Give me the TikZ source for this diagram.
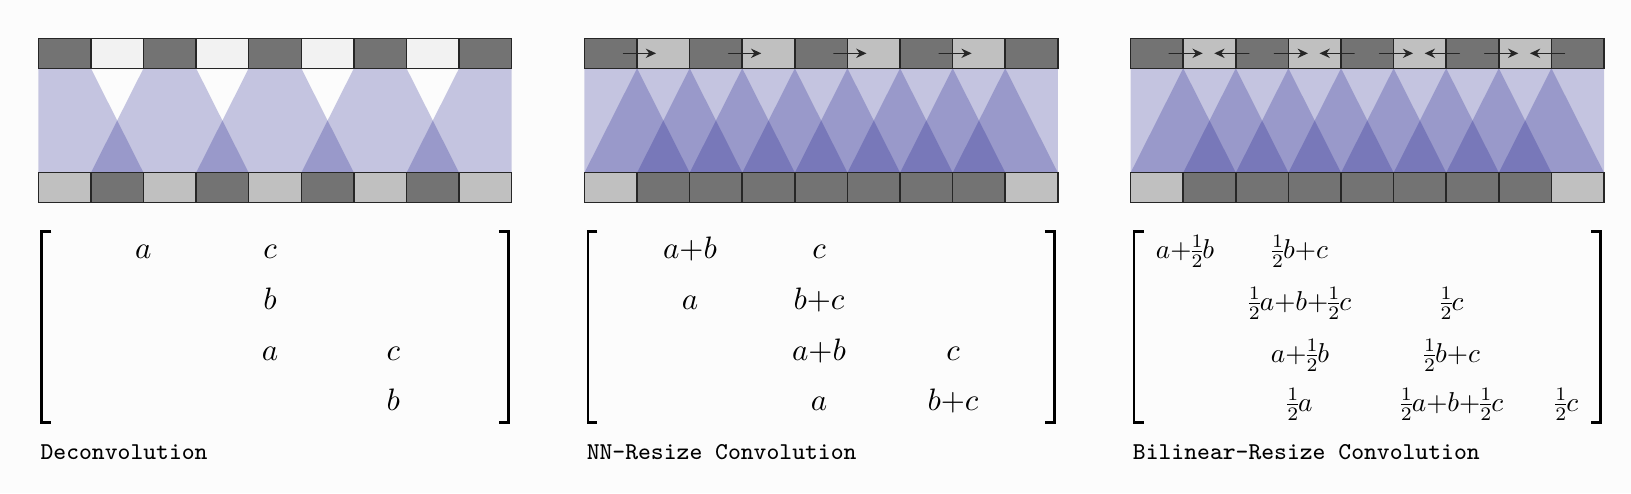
\documentclass[tikz,border=0pt]{standalone}
\usepackage{fontspec}
\usepackage{tikz}
\usetikzlibrary{arrows.meta}
\newfontfamily\captionmono{Latin Modern Mono}
\definecolor{cellDark}{RGB}{115,115,115}
\definecolor{cellGray}{RGB}{192,192,192}
\definecolor{cellBlank}{RGB}{242,242,242}
\definecolor{cellEdge}{RGB}{38,38,38}
\definecolor{kernBlue}{RGB}{11,11,131}
\definecolor{paper}{RGB}{252,252,252}
\newcommand{\smallmath}[1]{\scalebox{0.88}{$#1$}}

\begin{document}
\begin{tikzpicture}[x=0.3225pt, y=-0.3225pt, style={line cap = round},
	cell/.style={draw=cellEdge, line width=0.5pt, line cap=butt},
	kern/.style={fill=kernBlue, fill opacity=0.232},
	move/.style={draw=cellEdge, line width=0.5pt, -{Stealth[length=3.3pt, width=3pt]}},
	brack/.style={line width=0.85pt, line cap=butt, line join=miter},
	entry/.style={anchor=base, inner sep=0pt, execute at begin node={\medmuskip=0mu\nulldelimiterspace=0pt}},
	caption/.style={anchor=base west, inner sep=0pt, font=\fontsize{7.8}{9}\selectfont\captionmono}]
	\fill[paper] (0,0) rectangle (1631,493);
	% deconvolution
	\begin{scope}[shift={(38.3,0)}]
		\begin{scope}
			\clip (0,68.3) rectangle (473.4,172.7);
			\foreach \i in {0,2,...,8}
				\fill[kern] ({52.6*\i},68.3) -- +(52.6,0) -- +(105.2,104.4) -- +(-52.6,104.4) -- cycle;
		\end{scope}
		\foreach \c [count=\i from 0] in {cellDark,cellBlank,cellDark,cellBlank,cellDark,cellBlank,cellDark,cellBlank,cellDark}
			\filldraw[cell, fill=\c] ({52.6*\i},38.3) rectangle +(52.6,30);
		\foreach \c [count=\i from 0] in {cellGray,cellDark,cellGray,cellDark,cellGray,cellDark,cellGray,cellDark,cellGray}
			\filldraw[cell, fill=\c] ({52.6*\i},172.7) rectangle +(52.6,30);
		\draw[brack] (13,231.7) -- (3.5,231.7) -- (3.5,422.5) -- (13,422.5);
		\draw[brack] (460.5,231.7) -- (470,231.7) -- (470,422.5) -- (460.5,422.5);
		\node[entry] (dA11) at (105,258) {$a$};
		\node[entry] (dA12) at (231.7,258) {$c$};
		\node[entry] (dA22) at (231.7,309.5) {$b$};
		\node[entry] (dA32) at (231.7,360) {$a$};
		\node[entry] (dA33) at (355,360) {$c$};
		\node[entry] (dA43) at (355,410) {$b$};
		\node[caption] (decCap) at (1.7,459.5) {Deconvolution};
	\end{scope}
	% nearest neighbour resize
	\begin{scope}[shift={(584.45,0)}]
		\begin{scope}
			\clip (0,68.3) rectangle (473.4,172.7);
			\foreach \i in {0,...,8}
				\fill[kern] ({52.6*\i},68.3) -- +(52.6,0) -- +(105.2,104.4) -- +(-52.6,104.4) -- cycle;
		\end{scope}
		\foreach \c [count=\i from 0] in {cellDark,cellGray,cellDark,cellGray,cellDark,cellGray,cellDark,cellGray,cellDark}
			\filldraw[cell, fill=\c] ({52.6*\i},38.3) rectangle +(52.6,30);
		\foreach \c [count=\i from 0] in {cellGray,cellDark,cellDark,cellDark,cellDark,cellDark,cellDark,cellDark,cellGray}
			\filldraw[cell, fill=\c] ({52.6*\i},172.7) rectangle +(52.6,30);
		\foreach \i in {1,3,5,7}
			\draw[move] ({52.6*\i-13.5},53.3) -- ({52.6*\i+19},53.3);
		\draw[brack] (13,231.7) -- (3.5,231.7) -- (3.5,422.5) -- (13,422.5);
		\draw[brack] (460.5,231.7) -- (470,231.7) -- (470,422.5) -- (460.5,422.5);
		\node[entry] (nA11) at (105.5,258) {$a+b$};
		\node[entry] (nA12) at (234.5,258) {$c$};
		\node[entry] (nA21) at (105.5,309.5) {$a$};
		\node[entry] (nA22) at (234.5,309.5) {$b+c$};
		\node[entry] (nA32) at (234.5,360) {$a+b$};
		\node[entry] (nA33) at (368.5,360) {$c$};
		\node[entry] (nA42) at (234.5,410) {$a$};
		\node[entry] (nA43) at (368.5,410) {$b+c$};
		\node[caption] (nnCap) at (1.7,459.5) {NN-Resize Convolution};
	\end{scope}
	% bilinear resize
	\begin{scope}[shift={(1130.6,0)}]
		\begin{scope}
			\clip (0,68.3) rectangle (473.4,172.7);
			\foreach \i in {0,...,8}
				\fill[kern] ({52.6*\i},68.3) -- +(52.6,0) -- +(105.2,104.4) -- +(-52.6,104.4) -- cycle;
		\end{scope}
		\foreach \c [count=\i from 0] in {cellDark,cellGray,cellDark,cellGray,cellDark,cellGray,cellDark,cellGray,cellDark}
			\filldraw[cell, fill=\c] ({52.6*\i},38.3) rectangle +(52.6,30);
		\foreach \c [count=\i from 0] in {cellGray,cellDark,cellDark,cellDark,cellDark,cellDark,cellDark,cellDark,cellGray}
			\filldraw[cell, fill=\c] ({52.6*\i},172.7) rectangle +(52.6,30);
		\foreach \i in {1,3,5,7}{
			\draw[move] ({52.6*\i-14},53.3) -- ({52.6*\i+19.5},53.3);
			\draw[move] ({52.6*\i+65.6},53.3) -- ({52.6*\i+31.1},53.3);
		}
		\draw[brack] (13,231.7) -- (3.5,231.7) -- (3.5,422.5) -- (13,422.5);
		\draw[brack] (460.5,231.7) -- (470,231.7) -- (470,422.5) -- (460.5,422.5);
		\node[entry] (bA11) at (54.4,258) {\smallmath{a+\frac12 b}};
		\node[entry] (bA12) at (169.4,258) {\smallmath{\frac12 b+c}};
		\node[entry] (bA22) at (169.4,310) {\smallmath{\frac12 a+b+\frac12 c}};
		\node[entry] (bA23) at (321.4,310) {\smallmath{\frac12 c}};
		\node[entry] (bA32) at (169.4,362) {\smallmath{a+\frac12 b}};
		\node[entry] (bA33) at (321.4,362) {\smallmath{\frac12 b+c}};
		\node[entry] (bA42) at (169.4,411) {\smallmath{\frac12 a}};
		\node[entry] (bA43) at (321.4,411) {\smallmath{\frac12 a+b+\frac12 c}};
		\node[entry] (bA44) at (436.1,411) {\smallmath{\frac12 c}};
		\node[caption] (biCap) at (1.7,459.5) {Bilinear-Resize Convolution};
	\end{scope}
\end{tikzpicture}
\end{document}
